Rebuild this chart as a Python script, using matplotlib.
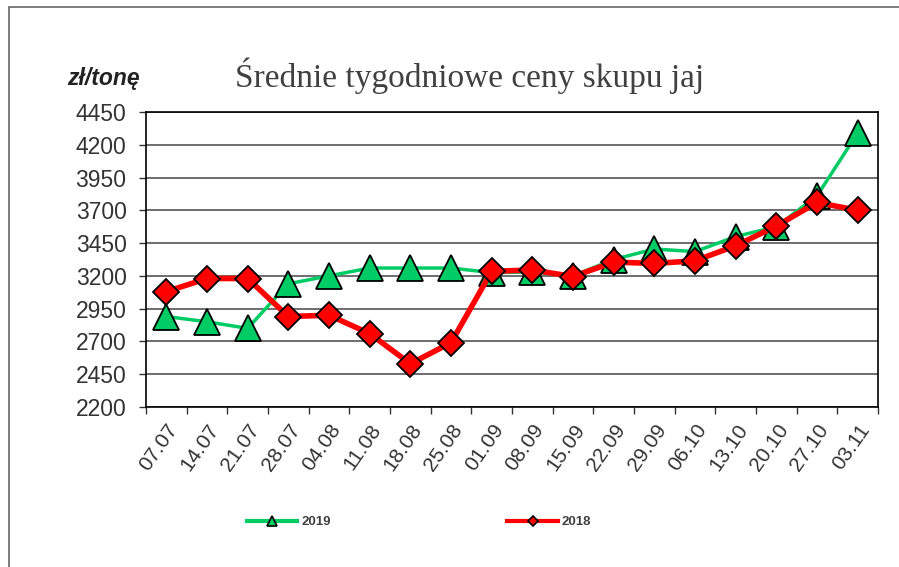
import matplotlib
matplotlib.use("Agg")
import matplotlib.pyplot as plt
import matplotlib.transforms as mtransforms
from matplotlib.lines import Line2D
from matplotlib.patches import Rectangle

categories = ["07.07", "14.07", "21.07", "28.07", "04.08", "11.08", "18.08", "25.08",
              "01.09", "08.09", "15.09", "22.09", "29.09", "06.10", "13.10", "20.10",
              "27.10", "03.11"]
values_2019 = [2890, 2850, 2800, 3140, 3200, 3260, 3260, 3260, 3225, 3230, 3200,
               3325, 3405, 3385, 3500, 3575, 3810, 4290]
values_2018 = [3080, 3180, 3180, 2890, 2900, 2760, 2530, 2690, 3235, 3245, 3195,
               3305, 3295, 3315, 3430, 3580, 3760, 3700]
yticks = [2200, 2450, 2700, 2950, 3200, 3450, 3700, 3950, 4200, 4450]

fig = plt.figure(figsize=(8.99, 5.67), dpi=100)
fig.patch.set_facecolor("white")
ax = fig.add_axes([146/899, 1-407/567, (878-146)/899, (407-112)/567])

x = list(range(len(categories)))
green = "#00CC66"
red = "#FF0000"
ax.plot(x, values_2019, color=green, lw=2.5, marker="^", ms=19,
        mfc=green, mec="black", mew=1.3, zorder=3)
ax.plot(x, values_2018, color=red, lw=4.0, marker="D", ms=13,
        mfc=red, mec="black", mew=1.3, zorder=4)

ax.set_xlim(-0.5, len(categories) - 0.5)
ax.set_ylim(2200, 4450)
ax.set_yticks(yticks)
ax.set_yticklabels([str(v) for v in yticks], fontsize=16.5, color="#333333",
                   family="Liberation Sans")
ax.set_xticks(x)
ax.set_xticklabels(categories, rotation=55, ha="right", va="top",
                   rotation_mode="anchor", fontsize=15, color="#333333",
                   family="Liberation Sans")
offset = mtransforms.ScaledTranslation(5/100, 0, fig.dpi_scale_trans)
for lab in ax.get_xticklabels():
    lab.set_transform(lab.get_transform() + offset)
ax.set_xticks([i - 0.5 for i in range(len(categories) + 1)], minor=True)
ax.tick_params(axis="x", which="major", length=0, pad=10)
ax.tick_params(axis="x", which="minor", length=5, width=1, color="#333333", direction="out")
ax.tick_params(axis="y", length=5, width=1, color="#333333", direction="out", pad=9)
ax.grid(axis="y", color="#555555", lw=1.2, zorder=0)
for s in ax.spines.values():
    s.set_color("black")
    s.set_linewidth(1.2)

fig.text(235/899, 1-76/567, "Średnie tygodniowe ceny skupu jaj", fontsize=24,
         family="Liberation Serif", color="#404040", ha="left", va="center")
fig.text(103/899, 1-79/567, "zł/tonę", fontsize=16.5, fontweight="bold",
         fontstyle="italic", family="Liberation Sans", color="#222222",
         ha="center", va="center")

h1 = Line2D([], [], color=green, lw=3, marker="^", ms=7, mfc=green, mec="black", mew=1.2)
h2 = Line2D([], [], color=red, lw=3, marker="D", ms=5, mfc=red, mec="black", mew=1.2)
leg = fig.legend([h1, h2], ["2019", "2018"], loc="center",
                 bbox_to_anchor=(419/899, 1-522/567), ncol=2, frameon=False,
                 handlelength=3.8, handletextpad=0.3, columnspacing=13.4,
                 prop={"family": "Liberation Sans", "weight": "bold", "size": 9.5})
for t in leg.get_texts():
    t.set_color("#404040")

fig.add_artist(Rectangle((9/899, -0.05), 1.2, 1 - 7/567 + 0.05, transform=fig.transFigure,
                         fill=False, edgecolor="#666666", lw=1.2))

fig.savefig("out.png", dpi=100, facecolor="white")
